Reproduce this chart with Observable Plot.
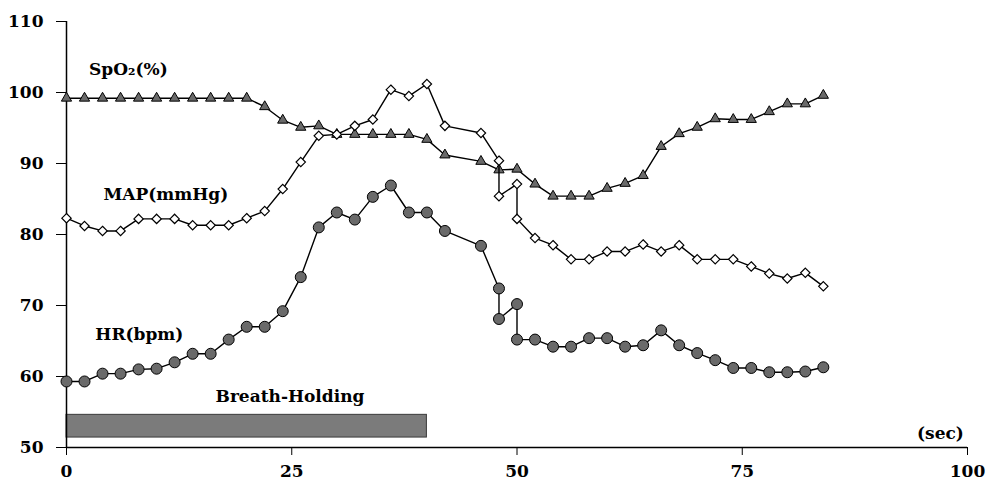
<!DOCTYPE html>
<html>
<head>
<meta charset="utf-8">
<script src="https://cdn.jsdelivr.net/npm/d3@7"></script>
<script src="https://cdn.jsdelivr.net/npm/@observablehq/plot@0.6"></script>
<style>
  html, body { margin: 0; padding: 0; background: #fff; }
  #chart { width: 989px; height: 484px; }
</style>
</head>
<body>
<div id="chart"></div>
<script>
// ---- data (time in seconds) ----
const spo2Time = [0,2,4,6,8,10,12,14,16,18,20,22,24,26,28,30,32,34,36,38,40,42,46,48,50,52,54,56,58,60,62,64,66,68,70,72,74,76,78,80,82,84];
const spo2Values = [99.2,99.2,99.2,99.2,99.2,99.2,99.2,99.2,99.2,99.2,99.2,98.0,96.1,95.1,95.3,94.1,94.1,94.1,94.1,94.1,93.4,91.2,90.3,89.1,89.2,87.1,85.4,85.4,85.4,86.5,87.2,88.3,92.4,94.2,95.1,96.3,96.2,96.2,97.3,98.4,98.4,99.6];

const mapTime = [0,2,4,6,8,10,12,14,16,18,20,22,24,26,28,30,32,34,36,38,40,42,46,48,48,50,50,52,54,56,58,60,62,64,66,68,70,72,74,76,78,80,82,84];
const mapValues = [82.3,81.2,80.5,80.5,82.2,82.2,82.2,81.3,81.3,81.3,82.3,83.3,86.4,90.2,93.9,94.1,95.3,96.2,100.4,99.5,101.2,95.3,94.3,90.4,85.4,87.1,82.2,79.5,78.5,76.5,76.5,77.6,77.6,78.6,77.6,78.5,76.5,76.5,76.5,75.5,74.5,73.8,74.6,72.7];

const hrTime = [0,2,4,6,8,10,12,14,16,18,20,22,24,26,28,30,32,34,36,38,40,42,46,48,48,50,50,52,54,56,58,60,62,64,66,68,70,72,74,76,78,80,82,84];
const hrValues = [59.3,59.3,60.4,60.4,61,61.1,62,63.2,63.2,65.2,67,67,69.2,74,81,83.1,82.1,85.3,86.9,83.1,83.1,80.5,78.4,72.4,68.1,70.2,65.2,65.2,64.2,64.2,65.4,65.4,64.2,64.4,66.5,64.4,63.3,62.3,61.2,61.2,60.6,60.6,60.7,61.3];

const breathHold = [{start: 0, end: 40, low: 51.4, high: 54.6}];

const xTicks = [0, 25, 50, 75, 100];
const yTicks = [50, 60, 70, 80, 90, 100, 110];

const seriesLabels = [
  {t: 2.5, v: 103.2, text: "SpO\u2082(%)"},
  {t: 4.1, v: 85.6, text: "MAP(mmHg)"},
  {t: 3.2, v: 65.9, text: "HR(bpm)"}
];
const barLabel = [{t: 24.8, v: 57.2, text: "Breath-Holding"}];
const unitLabel = [{t: 99.6, v: 52.0, text: "(sec)"}];

const toRows = (ts, vs) => vs.map((v, i) => ({t: ts[i], v}));
const spo2 = toRows(spo2Time, spo2Values);
const map = toRows(mapTime, mapValues);
const hr = toRows(hrTime, hrValues);

const chart = Plot.plot({
  width: 989,
  height: 484,
  marginLeft: 66,
  marginRight: 22,
  marginTop: 21,
  marginBottom: 37,
  style: {fontFamily: "'DejaVu Serif', serif", fontWeight: "bold", fontSize: "17px", color: "#000", background: "#fff"},
  x: {domain: [0, 100], ticks: xTicks, tickSize: 8, tickPadding: 8, label: null},
  y: {domain: [50, 110], ticks: yTicks, tickSize: 10, tickPadding: 13, label: null},
  marks: [
    Plot.rect(breathHold, {x1: "start", x2: "end", y1: "low", y2: "high", fill: "#7b7b7b", stroke: "#3a3a3a", strokeWidth: 1}),
    Plot.ruleX([0], {y1: 50, y2: 110, stroke: "#000", strokeWidth: 1.5}),
    Plot.ruleY([50], {x1: 0, x2: 100, stroke: "#000", strokeWidth: 1.5}),
    Plot.axisX({ticks: xTicks, tickSize: 8, tickPadding: 9, fontSize: 17, fontWeight: "bold"}),
    Plot.axisY({ticks: yTicks, tickSize: 10, tickPadding: 13, fontSize: 17, fontWeight: "bold"}),
    // SpO2
    Plot.line(spo2, {x: "t", y: "v", stroke: "#000", strokeWidth: 1.4}),
    Plot.dot(spo2, {x: "t", y: "v", symbol: "triangle", r: 3.8, fill: "#6a6a6a", stroke: "#000", strokeWidth: 1}),
    // HR
    Plot.line(hr, {x: "t", y: "v", stroke: "#000", strokeWidth: 1.4}),
    Plot.dot(hr, {x: "t", y: "v", symbol: "circle", r: 5.5, fill: "#6a6a6a", stroke: "#000", strokeWidth: 1}),
    // MAP
    Plot.line(map, {x: "t", y: "v", stroke: "#000", strokeWidth: 1.4}),
    Plot.dot(map, {x: "t", y: "v", symbol: "diamond2", r: 4.2, fill: "#fff", stroke: "#000", strokeWidth: 1.2}),
    // labels
    Plot.text(seriesLabels, {x: "t", y: "v", text: "text", textAnchor: "start", fontSize: 17, fontWeight: "bold", fill: "#000"}),
    Plot.text(barLabel, {x: "t", y: "v", text: "text", textAnchor: "middle", fontSize: 17, fontWeight: "bold", fill: "#000"}),
    Plot.text(unitLabel, {x: "t", y: "v", text: "text", textAnchor: "end", fontSize: 17, fontWeight: "bold", fill: "#000"})
  ]
});
document.getElementById("chart").appendChild(chart);
</script>
</body>
</html>
